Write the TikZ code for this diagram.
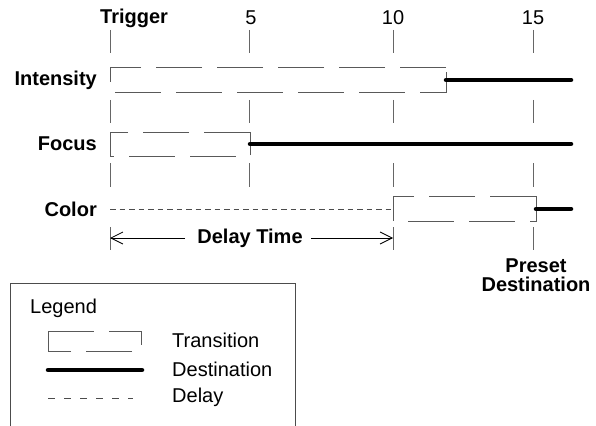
\documentclass[tikz,border=0pt]{standalone}
\usepackage{fontspec}
\setmainfont{Liberation Sans}
\usepackage{tikz}
\usetikzlibrary{arrows.meta, positioning}

\tikzset{
  gridtick/.style={draw=black!60, line width=0.8pt},
  transbox/.style={draw=black!65, line width=0.9pt, dash pattern=on 46pt off 15pt},
  destline/.style={line width=4.5pt, line cap=round},
  delayline/.style={draw=black!70, line width=0.8pt, dash pattern=on 5.5pt off 4pt},
  lbl/.style={font=\fontsize{20}{20}\selectfont\bfseries, inner sep=0pt},
  txt/.style={font=\fontsize{20}{20}\selectfont, inner sep=0pt},
}

\begin{document}
\begin{tikzpicture}[x=1pt, y=-1pt, >={Straight Barb[length=12pt, width=12pt]}]
\useasboundingbox (0,0) rectangle (596,425);

% time axis
\node[lbl, anchor=west] (trig) at (100,18) {Trigger};
\foreach \t/\x in {5/251, 10/393, 15/533}
  \node[txt] (n\t) at (\x,18) {\t};

\foreach \t/\x in {0/110, 5/249, 10/393, 15/533} {
  \coordinate (t\t) at (\x,0);
  \foreach \ya/\yb in {30/53, 100/123, 163/187}
    \draw[gridtick] (\x,\ya) -- (\x,\yb);
}
\foreach \x in {110, 393, 533}
  \draw[gridtick] (\x,227) -- (\x,250);

% rows
\foreach \name/\lab/\y in {int/Intensity/80, foc/Focus/144, col/Color/209}
  \node[lbl, anchor=east] (\name) at (97,\y) {\lab};

\draw[transbox] (446,67) -- (110,67) -- (110,92) -- (446,92) -- cycle;
\draw[destline] (446,80) -- (571,80);

\draw[transbox] (250,132) -- (110,132) -- (110,156) -- (250,156) -- cycle;
\draw[destline] (250,144) -- (571,144);

\draw[delayline] (110,209) -- (393,209);
\draw[transbox] (536,196) -- (393,196) -- (393,221) -- (536,221) -- cycle;
\draw[destline] (536,209) -- (571,209);

% delay time
\node[lbl] (dtime) at (250,238) {Delay Time};
\draw[->, line width=0.8pt] ([xshift=-12pt]dtime.west) -- (110,238);
\draw[->, line width=0.8pt] ([xshift=8pt]dtime.east) -- (393,238);

\node[lbl, align=center, font=\fontsize{20}{19.5}\selectfont\bfseries] (preset) at (536,275) {Preset\\Destination};

% legend
\draw[line width=0.9pt, draw=black!70] (10,430) -- (10,283) -- (295,283) -- (295,430);
\node[txt, anchor=west] (leg) at (30,308) {Legend};
\draw[transbox] (48,331) -- (141,331) -- (141,351) -- (48,351) -- cycle;
\node[txt, anchor=west] (ltrans) at (172,340) {Transition};
\draw[destline] (48,370) -- (142,370);
\node[txt, anchor=west] (ldest) at (172,369) {Destination};
\draw[delayline, dash pattern=on 7pt off 9pt] (48,398) -- (133,398);
\node[txt, anchor=west] (ldelay) at (172,397) {Delay};

\end{tikzpicture}
\end{document}
